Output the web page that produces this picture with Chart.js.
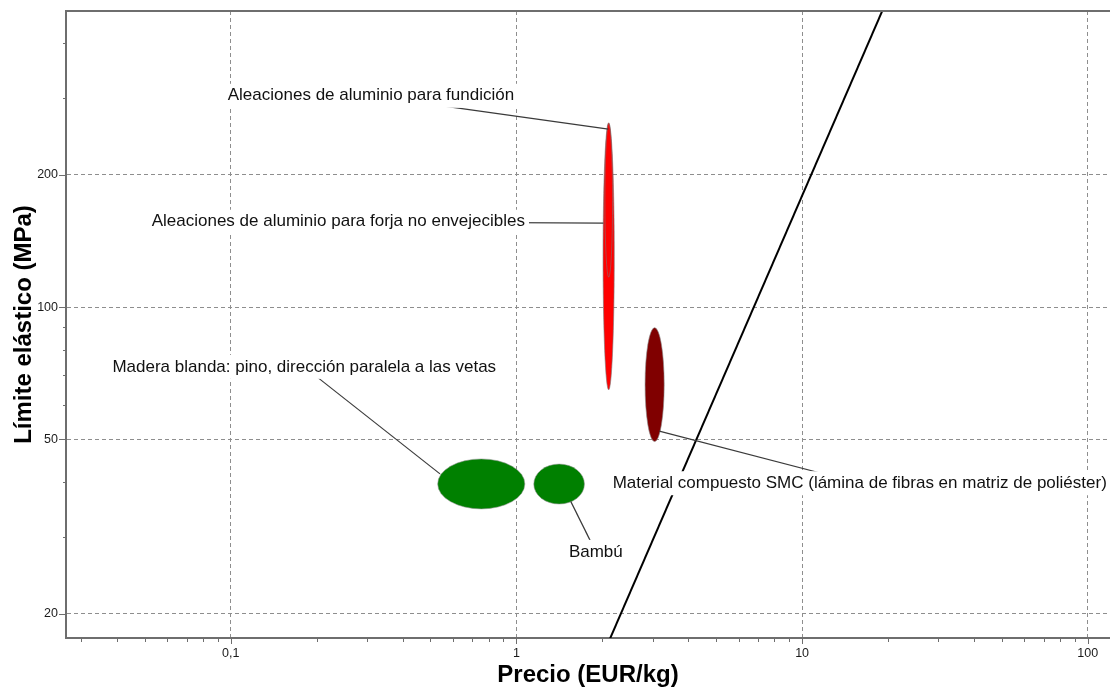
<!DOCTYPE html>
<html>
<head>
<meta charset="utf-8">
<script src="https://cdn.jsdelivr.net/npm/chart.js@4/dist/chart.umd.min.js"></script>
<style>
  html, body { margin: 0; padding: 0; background: #ffffff; }
  #wrap { width: 1110px; height: 688px; }
</style>
</head>
<body>
<div id="wrap"><canvas id="chart" width="1110" height="688"></canvas></div>
<script>
// Materials: price range (EUR/kg) and yield strength range (MPa)
const materials = [
  'Madera blanda: pino, dirección paralela a las vetas',
  'Bambú',
  'Aleaciones de aluminio para forja no envejecibles',
  'Aleaciones de aluminio para fundición',
  'Material compuesto SMC (lámina de fibras en matriz de poliéster)'
];
const priceLow     = [0.53, 1.15, 2.01, 2.04, 2.82];
const priceHigh    = [1.07, 1.73, 2.20, 2.17, 3.29];
const strengthLow  = [34.7, 35.6, 64.8, 117, 49.4];
const strengthHigh = [45.1, 43.9, 263, 262, 89.8];

// Selection guide line (slope 1.5 on log-log axes)
const guidePrice    = [2.08, 19.8];
const guideStrength = [17, 500];

// Axis ticks
const xTickValues = [0.03, 0.04, 0.05, 0.06, 0.07, 0.08, 0.09,
                     0.1, 0.2, 0.3, 0.4, 0.5, 0.6, 0.7, 0.8, 0.9,
                     1, 2, 3, 4, 5, 6, 7, 8, 9,
                     10, 20, 30, 40, 50, 60, 70, 80, 90, 100];
const xMajorValues = [0.1, 1, 10, 100];
const xMajorLabels = ['0,1', '1', '10', '100'];
const yTickValues = [20, 30, 40, 50, 60, 70, 80, 90, 100, 200, 300, 400];
const yMajorValues = [20, 50, 100, 200];
const yMajorLabels = ['20', '50', '100', '200'];

// Styling
const FONT = '"Liberation Sans", Arial, Helvetica, sans-serif';
const AXIS_COLOR = '#6e6e6e';
const GRID_COLOR = '#8e8e8e';
const fillColors = ['#008000', '#008000', '#ff0000', '#ff0000', '#800000'];
const outlineColors = ['rgba(150,150,150,0.55)', 'rgba(150,150,150,0.55)', 'rgba(120,120,120,0.6)', 'rgba(120,120,120,0.55)', 'rgba(140,140,140,0.6)'];

// Callout labels: text centre and leader target, both in (price, strength)
const callouts = [
  { material: 3, at: [0.3095, 303],  to: [2.098, 254.5] },
  { material: 2, at: [0.238, 156.5], to: [2.015, 155.3] },
  { material: 0, at: [0.1808, 73.1], to: [0.540, 41.7] },
  { material: 4, at: [15.91, 39.7],  to: [3.163, 52.2] },
  { material: 1, at: [1.896, 27.7],  to: [1.549, 36.1] }
];

// Ellipses for each material's property envelope, in log space
const envelopePlugin = {
  id: 'envelopes',
  beforeDatasetsDraw(chart) {
    const { ctx, chartArea, scales: { x, y } } = chart;
    ctx.save();
    ctx.beginPath();
    ctx.rect(chartArea.left, chartArea.top, chartArea.right - chartArea.left, chartArea.bottom - chartArea.top);
    ctx.clip();
    const drawOrder = [0, 1, 4, 2, 3];
    for (const i of drawOrder) {
      const x1 = x.getPixelForValue(priceLow[i]);
      const x2 = x.getPixelForValue(priceHigh[i]);
      const y1 = y.getPixelForValue(strengthLow[i]);
      const y2 = y.getPixelForValue(strengthHigh[i]);
      const cx = (x1 + x2) / 2, cy = (y1 + y2) / 2;
      const rx = Math.abs(x2 - x1) / 2, ry = Math.abs(y2 - y1) / 2;
      ctx.beginPath();
      ctx.ellipse(cx, cy, rx, ry, 0, 0, Math.PI * 2);
      ctx.fillStyle = fillColors[i];
      ctx.fill();
      ctx.lineWidth = 1;
      ctx.strokeStyle = outlineColors[i];
      ctx.stroke();
    }
    ctx.restore();
  }
};

// Leader lines, white label boxes and label text
const calloutPlugin = {
  id: 'callouts',
  afterDatasetsDraw(chart) {
    const { ctx, scales: { x, y } } = chart;
    ctx.save();
    ctx.lineWidth = 1.2;
    ctx.strokeStyle = '#3a3a3a';
    for (const c of callouts) {
      ctx.beginPath();
      ctx.moveTo(x.getPixelForValue(c.at[0]), y.getPixelForValue(c.at[1]));
      ctx.lineTo(x.getPixelForValue(c.to[0]), y.getPixelForValue(c.to[1]));
      ctx.stroke();
    }
    ctx.font = '17px ' + FONT;
    ctx.textAlign = 'center';
    ctx.textBaseline = 'middle';
    for (const c of callouts) {
      const text = materials[c.material];
      const cx = x.getPixelForValue(c.at[0]);
      const cy = y.getPixelForValue(c.at[1]);
      const w = ctx.measureText(text).width;
      ctx.fillStyle = '#ffffff';
      ctx.fillRect(cx - w / 2 - 4, cy - 12, w + 8, 24);
      ctx.fillStyle = '#111111';
      ctx.fillText(text, cx, cy);
    }
    ctx.restore();
  },
  afterDraw(chart) {
    const { ctx, chartArea, scales: { x, y } } = chart;
    ctx.save();
    ctx.strokeStyle = AXIS_COLOR;
    // top frame edge
    ctx.lineWidth = 2;
    ctx.beginPath();
    ctx.moveTo(chartArea.left - 1, chartArea.top);
    ctx.lineTo(chartArea.right, chartArea.top);
    ctx.stroke();
    // tick marks: longer at labelled values
    ctx.lineWidth = 1;
    for (const v of xTickValues) {
      const px = Math.round(x.getPixelForValue(v)) + 0.5;
      const len = xMajorValues.includes(v) ? 6 : 4;
      ctx.beginPath();
      ctx.moveTo(px, chartArea.bottom);
      ctx.lineTo(px, chartArea.bottom + len);
      ctx.stroke();
    }
    for (const v of yTickValues) {
      const py = Math.round(y.getPixelForValue(v)) + 0.5;
      const len = yMajorValues.includes(v) ? 7 : 3;
      ctx.beginPath();
      ctx.moveTo(chartArea.left - len, py);
      ctx.lineTo(chartArea.left, py);
      ctx.stroke();
    }
    ctx.restore();
  }
};

new Chart(document.getElementById('chart'), {
  type: 'scatter',
  data: {
    datasets: [{
      label: 'guide',
      data: guidePrice.map((p, i) => ({ x: p, y: guideStrength[i] })),
      showLine: true,
      borderColor: '#000000',
      borderWidth: 2,
      pointRadius: 0,
      pointHoverRadius: 0,
      fill: false
    }]
  },
  options: {
    responsive: false,
    animation: false,
    devicePixelRatio: 1,
    events: [],
    layout: { padding: { top: 11, right: 0, bottom: 0, left: 0 } },
    plugins: { legend: { display: false }, tooltip: { enabled: false } },
    scales: {
      x: {
        type: 'logarithmic',
        position: 'bottom',
        min: 0.0265,
        max: 119.6,
        afterFit(scale) { scale.height = 50; scale.paddingLeft = 0; scale.paddingRight = 0; },
        afterBuildTicks(scale) { scale.ticks = xTickValues.map(v => ({ value: v })); },
        grid: {
          drawTicks: false,
          lineWidth: 1,
          color: (c) => (c.tick && xMajorValues.includes(c.tick.value)) ? GRID_COLOR : 'rgba(0,0,0,0)'
        },
        border: { display: true, color: AXIS_COLOR, width: 2, dash: [4, 3] },
        ticks: {
          autoSkip: false,
          maxRotation: 0,
          padding: 8,
          color: '#1a1a1a',
          font: { family: FONT, size: 12.5 },
          callback: (v) => {
            const k = xMajorValues.indexOf(v);
            return k >= 0 ? xMajorLabels[k] : '';
          }
        },
        title: {
          display: true,
          text: 'Precio (EUR/kg)',
          color: '#000000',
          font: { family: FONT, size: 24, weight: 'bold', lineHeight: 1 },
          padding: { top: 0, bottom: 1 }
        }
      },
      y: {
        type: 'logarithmic',
        position: 'left',
        min: 17.63,
        max: 472.7,
        afterFit(scale) { scale.width = 66; scale.paddingTop = 0; scale.paddingBottom = 0; },
        afterBuildTicks(scale) { scale.ticks = yTickValues.map(v => ({ value: v })); },
        grid: {
          drawTicks: false,
          lineWidth: 1,
          color: (c) => (c.tick && yMajorValues.includes(c.tick.value)) ? GRID_COLOR : 'rgba(0,0,0,0)'
        },
        border: { display: true, color: AXIS_COLOR, width: 2, dash: [4, 3] },
        ticks: {
          autoSkip: false,
          padding: 8,
          color: '#1a1a1a',
          font: { family: FONT, size: 12.5 },
          callback: (v) => {
            const k = yMajorValues.indexOf(v);
            return k >= 0 ? yMajorLabels[k] : '';
          }
        },
        title: {
          display: true,
          text: 'Límite elástico (MPa)',
          color: '#000000',
          font: { family: FONT, size: 24, weight: 'bold', lineHeight: 1 },
          padding: { top: 12, bottom: 0 }
        }
      }
    }
  },
  plugins: [envelopePlugin, calloutPlugin]
});
</script>
</body>
</html>
